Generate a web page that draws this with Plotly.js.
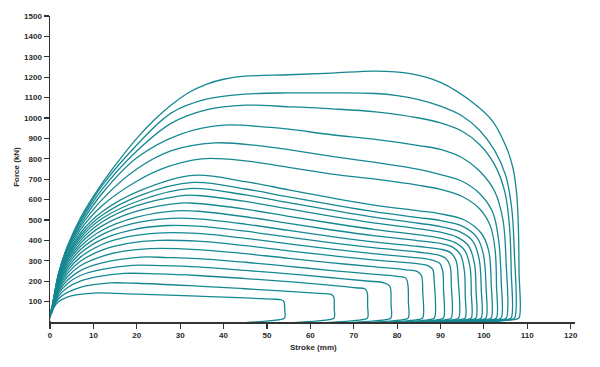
<!DOCTYPE html>
<html><head><meta charset="utf-8">
<script src="https://cdn.plot.ly/plotly-3.0.1.min.js"></script>
<style>html,body{margin:0;padding:0;background:#fff}#chart{width:600px;height:367px}</style>
</head><body><div id="chart"></div>
<script>
// Tick labels
const xTickVals = [0, 10, 20, 30, 40, 50, 60, 70, 80, 90, 100, 110, 120];
const yTickVals = [100, 200, 300, 400, 500, 600, 700, 800, 900, 1000, 1100, 1200, 1300, 1400, 1500];
const xTitle = 'Stroke (mm)';
const yTitle = 'Force (kN)';

// Force-stroke curves (stroke in mm, force in kN), lowest to highest
const strokeA = [0, 0.5, 1, 2, 4, 6, 10, 20, 34, 45, 51, 53.3, 53.9, 54.1, 54.1, 53.3, 0];
const forceA  = [0, 50, 75, 100, 122, 133, 142, 137, 127, 118, 112, 109, 100, 60, 20, 13, 0];

const strokeB = [0, 0.5, 1, 2, 4, 7, 10, 14, 20, 34, 45, 55, 62, 64.8, 65.4, 65.5, 65.5, 64.7, 0];
const forceB  = [0, 52, 80, 115, 145, 170, 183, 192, 190, 176, 163, 150, 140, 135, 122, 70, 20, 13, 0];

const strokeC = [0, 0.5, 1, 2, 4, 7, 11, 17, 25, 34, 45, 55, 65, 70.5, 72.6, 73.1, 73.2, 73.2, 72.4, 0];
const forceC  = [0, 54, 85, 128, 168, 200, 222, 238, 236, 228, 213, 198, 180, 168, 162, 145, 80, 20, 13, 0];

const strokeD = [0, 0.5, 1, 2, 4, 7, 12, 19, 26, 34, 45, 55, 65, 73, 77, 78.3, 78.6, 78.6, 77.8, 0];
const forceD  = [0, 56, 90, 140, 188, 228, 258, 278, 276, 270, 253, 236, 217, 201, 192, 176, 90, 20, 13, 0];

const strokeE = [0, 0.5, 1, 2, 4, 7, 12, 21, 27, 34, 45, 55, 65, 75, 80, 82, 82.5, 82.6, 82.6, 81.8, 0];
const forceE  = [0, 58, 94, 150, 205, 252, 290, 318, 316, 311, 293, 273, 252, 233, 224, 215, 180, 100, 20, 13, 0];

const strokeF = [0, 0.5, 1, 2, 4, 7, 12, 17, 23, 34, 45, 55, 65, 75, 82, 84.6, 85.6, 85.9, 85.9, 85.1, 0];
const forceF  = [0, 60, 98, 160, 222, 276, 322, 347, 360, 355, 335, 312, 290, 270, 256, 248, 228, 150, 20, 13, 0];

const strokeG = [0, 0.5, 1, 2, 4, 7, 12, 18, 25, 34, 45, 55, 65, 75, 85, 87.2, 88.2, 88.55, 88.6, 87.8, 0];
const forceG  = [0, 61, 101, 168, 237, 298, 352, 385, 400, 396, 374, 349, 325, 303, 285, 275, 258, 200, 20, 13, 0];

const strokeH = [0, 0.5, 1, 2, 4, 7, 12, 18, 26, 34, 45, 55, 65, 75, 85, 88.3, 89.8, 90.5, 90.7, 90.7, 89.9, 0];
const forceH  = [0, 62, 104, 176, 251, 318, 380, 418, 437, 434, 410, 383, 357, 334, 314, 302, 288, 250, 160, 20, 13, 0];

const strokeI = [0, 0.5, 1, 2, 4, 7, 12, 19, 27, 34, 45, 55, 65, 75, 85, 89.5, 91.2, 92.2, 92.5, 92.5, 91.7, 0];
const forceI  = [0, 63, 107, 183, 264, 337, 405, 452, 473, 470, 445, 416, 388, 363, 342, 328, 312, 275, 180, 20, 13, 0];

const strokeJ = [0, 0.5, 1, 2, 4, 7, 12, 19, 28, 34, 45, 55, 65, 75, 85, 90, 92.3, 93.6, 94.1, 94.2, 93.4, 0];
const forceJ  = [0, 64, 110, 190, 276, 354, 428, 482, 508, 506, 480, 449, 419, 392, 370, 357, 340, 300, 200, 20, 13, 0];

const strokeK = [0, 0.5, 1, 2, 4, 7, 12, 20, 29, 34, 45, 55, 65, 75, 85, 90, 92.7, 94.6, 95.5, 95.7, 95.7, 94.9, 0];
const forceK  = [0, 65, 112, 196, 288, 370, 450, 514, 545, 543, 516, 483, 451, 422, 398, 385, 368, 330, 250, 130, 20, 13, 0];

const strokeL = [0, 0.5, 1, 2, 4, 7, 12, 20, 30, 34, 45, 55, 65, 75, 85, 90, 93.3, 95.6, 96.8, 97.1, 97.1, 96.3, 0];
const forceL  = [0, 66, 114, 202, 298, 385, 471, 543, 583, 581, 553, 518, 484, 453, 427, 411, 390, 350, 270, 140, 20, 13, 0];

const strokeM = [0, 0.5, 1, 2, 4, 7, 12, 20, 31, 34, 45, 55, 65, 75, 85, 90, 93.8, 96.4, 97.8, 98.2, 98.2, 97.4, 0];
const forceM  = [0, 67, 116, 208, 308, 399, 490, 570, 621, 620, 591, 554, 518, 485, 457, 440, 416, 375, 290, 150, 20, 13, 0];

const strokeN = [0, 0.5, 1, 2, 4, 7, 12, 21, 32, 45, 55, 65, 75, 85, 90, 94.5, 97.4, 98.9, 99.4, 99.4, 98.6, 0];
const forceN  = [0, 68, 118, 213, 317, 412, 507, 598, 654, 623, 585, 548, 513, 484, 468, 442, 398, 310, 160, 20, 13, 0];

const strokeO = [0, 0.5, 1, 2, 4, 7, 12, 21, 33, 45, 55, 65, 75, 85, 90, 95, 98.4, 99.9, 100.5, 100.5, 99.7, 0];
const forceO  = [0, 69, 120, 218, 325, 424, 523, 622, 684, 652, 613, 575, 540, 512, 497, 470, 415, 330, 170, 20, 13, 0];

const strokeP = [0, 0.5, 1, 2, 4, 7, 12, 21, 33, 45, 55, 65, 75, 85, 90, 95.5, 99.4, 101.1, 101.7, 101.7, 100.9, 0];
const forceP  = [0, 70, 122, 222, 333, 436, 540, 646, 719, 688, 648, 608, 572, 545, 530, 500, 435, 350, 180, 20, 13, 0];

const strokeQ = [0, 0.5, 1, 2, 4, 7, 12, 20, 27, 35, 45, 55, 65, 75, 85, 90, 95, 99, 101.5, 102.6, 102.9, 102.9, 102.1, 0];
const forceQ  = [0, 71, 125, 227, 343, 452, 570, 690, 760, 800, 790, 758, 725, 700, 670, 650, 615, 555, 470, 350, 180, 20, 13, 0];

const strokeR = [0, 0.5, 1, 2, 4, 7, 12, 20, 28, 38, 48, 55, 65, 75, 85, 90, 95, 99, 102, 103.4, 104, 104, 103.2, 0];
const forceR  = [0, 72, 128, 231, 352, 466, 600, 750, 840, 878, 865, 845, 812, 782, 748, 723, 690, 630, 540, 400, 200, 20, 13, 0];

const strokeS = [0, 0.5, 1, 2, 4, 7, 12, 20, 30, 40, 50, 55, 65, 75, 85, 90, 95, 99, 102.5, 104.4, 105.1, 105.2, 104.4, 0];
const forceS  = [0, 73, 130, 234, 360, 478, 630, 805, 920, 965, 955, 945, 918, 895, 865, 846, 805, 740, 640, 500, 300, 20, 13, 0];

const strokeT = [0, 0.5, 1, 2, 4, 7, 12, 20, 28, 36, 45, 55, 65, 75, 85, 90, 95, 99, 102.5, 104.8, 105.9, 106.3, 106.3, 105.5, 0];
const forceT  = [0, 74, 132, 237, 365, 490, 650, 838, 975, 1040, 1063, 1055, 1045, 1030, 1000, 976, 935, 870, 770, 640, 470, 250, 20, 13, 0];

const strokeU = [0, 0.5, 1, 2, 4, 7, 12, 20, 28, 36, 45, 55, 65, 75, 80, 85, 90, 95, 99, 102.5, 105, 106.4, 107, 107.1, 106.3, 0];
const forceU  = [0, 75, 134, 239, 368, 498, 668, 868, 1025, 1092, 1117, 1123, 1123, 1120, 1110, 1090, 1058, 1010, 940, 840, 720, 560, 350, 20, 13, 0];

const strokeV = [0, 0.5, 1, 2, 4, 7, 12, 16, 20, 24, 28, 32, 36, 40, 45, 55, 65, 75, 83, 90, 97.5, 102, 105, 106.7, 107.5, 107.9, 108.1, 108.1, 107.3, 0];
const forceV  = [0, 75, 135, 240, 370, 510, 680, 795, 900, 990, 1065, 1125, 1165, 1190, 1205, 1212, 1220, 1230, 1218, 1175, 1075, 985, 865, 755, 640, 500, 250, 20, 13, 0];

const curves = [
  [strokeA, forceA], [strokeB, forceB], [strokeC, forceC], [strokeD, forceD],
  [strokeE, forceE], [strokeF, forceF], [strokeG, forceG], [strokeH, forceH],
  [strokeI, forceI], [strokeJ, forceJ], [strokeK, forceK], [strokeL, forceL],
  [strokeM, forceM], [strokeN, forceN], [strokeO, forceO], [strokeP, forceP],
  [strokeQ, forceQ], [strokeR, forceR], [strokeS, forceS], [strokeT, forceT],
  [strokeU, forceU], [strokeV, forceV]
];

const LINE = '#168891';
const AXIS = '#333333';
const FONT = {family: 'Liberation Sans, Arial, sans-serif', size: 8, color: '#2a2a2a', weight: 'bold'};

const traces = curves.map(([x, y]) => ({
  x: x, y: y, type: 'scatter', mode: 'lines',
  line: {color: LINE, width: 1.3, shape: 'spline', smoothing: 1},
  hoverinfo: 'skip', showlegend: false
}));

const layout = {
  width: 600, height: 367,
  margin: {l: 50, r: 25, t: 16, b: 45},
  paper_bgcolor: '#ffffff', plot_bgcolor: '#ffffff',
  showlegend: false,
  xaxis: {
    range: [0, 121], tickmode: 'array', tickvals: xTickVals,
    ticktext: xTickVals.map(String),
    showgrid: false, zeroline: false, showline: true,
    linecolor: AXIS, linewidth: 1.5,
    ticks: 'outside', ticklen: 5, tickwidth: 1.2, tickcolor: AXIS,
    tickfont: FONT
  },
  yaxis: {
    range: [0, 1500], tickmode: 'array', tickvals: yTickVals,
    ticktext: yTickVals.map(String),
    showgrid: false, zeroline: false, showline: true,
    linecolor: AXIS, linewidth: 1.5,
    ticks: 'outside', ticklen: 5, tickwidth: 1.2, tickcolor: AXIS,
    tickfont: FONT
  },
  annotations: [
    {text: xTitle, xref: 'paper', yref: 'paper', x: 0.501, y: -0.082,
     xanchor: 'center', yanchor: 'middle', showarrow: false, font: FONT},
    {text: yTitle, xref: 'paper', yref: 'paper', x: -0.063, y: 0.507, textangle: -90,
     xanchor: 'center', yanchor: 'middle', showarrow: false, font: FONT}
  ]
};

Plotly.newPlot('chart', traces, layout, {staticPlot: true, displayModeBar: false});
</script>
</body></html>
